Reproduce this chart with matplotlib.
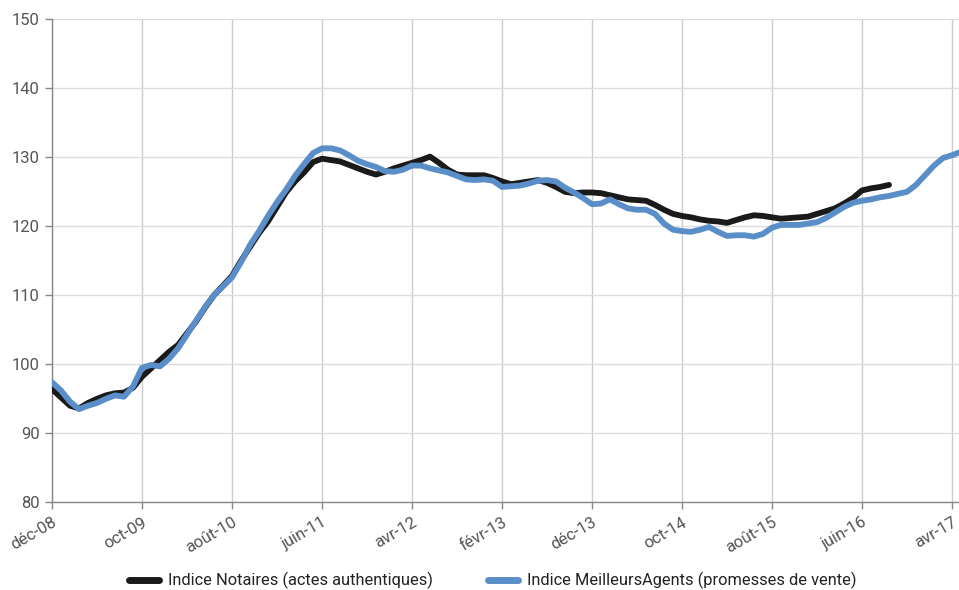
import numpy as np
import matplotlib.pyplot as plt

plt.rcParams['font.family'] = ['Roboto', 'DejaVu Sans']

# monthly index values, starting in December 2008
tick_labels = ['déc-08', 'oct-09', 'août-10', 'juin-11', 'avr-12', 'févr-13',
               'déc-13', 'oct-14', 'août-15', 'juin-16', 'avr-17']

notaires = [
    96.4, 95.2, 94.0, 93.6, 94.4, 95.0, 95.5, 95.8, 95.9, 96.6,
    98.2, 99.4, 100.6, 101.8, 102.8, 104.5, 106.2, 108.2, 110.0, 111.4,
    112.8, 115.0, 117.0, 119.0, 120.7, 122.8, 124.9, 126.5, 127.8, 129.3,
    129.8, 129.6, 129.4, 128.9, 128.4, 127.9, 127.5, 127.9, 128.4, 128.8,
    129.2, 129.6, 130.1, 129.2, 128.2, 127.5, 127.4, 127.4, 127.4, 127.0,
    126.5, 126.1, 126.3, 126.5, 126.7, 126.3, 125.7, 125.0, 124.8, 124.9,
    124.9, 124.8, 124.5, 124.2, 123.9, 123.8, 123.7, 123.1, 122.4, 121.8,
    121.5, 121.3, 121.0, 120.8, 120.7, 120.5, 120.9, 121.3, 121.6, 121.5,
    121.3, 121.1, 121.2, 121.3, 121.4, 121.8, 122.2, 122.6, 123.3, 124.1,
    125.2, 125.5, 125.7, 126.0,
]

meilleurs_agents = [
    97.4, 96.2, 94.6, 93.5, 94.0, 94.4, 95.0, 95.5, 95.3, 96.8,
    99.5, 99.9, 99.7, 100.8, 102.3, 104.3, 106.3, 108.3, 110.0, 111.3,
    112.6, 114.8, 117.3, 119.3, 121.5, 123.5, 125.3, 127.3, 129.0, 130.6,
    131.3, 131.3, 131.0, 130.3, 129.5, 129.0, 128.6, 128.0, 127.9, 128.2,
    128.8, 128.8, 128.4, 128.1, 127.8, 127.3, 126.8, 126.7, 126.8, 126.6,
    125.7, 125.8, 125.9, 126.2, 126.6, 126.7, 126.5, 125.6, 124.9, 124.1,
    123.2, 123.3, 123.9, 123.2, 122.6, 122.4, 122.4, 121.8, 120.4, 119.5,
    119.3, 119.2, 119.5, 119.9, 119.2, 118.6, 118.7, 118.7, 118.5, 118.9,
    119.8, 120.2, 120.2, 120.2, 120.4, 120.6, 121.2, 122.0, 122.8, 123.4,
    123.7, 123.9, 124.2, 124.4, 124.7, 125.0, 126.0, 127.4, 128.8, 129.9,
    130.3, 130.8,
]

label_notaires = 'Indice Notaires (actes authentiques)'
label_ma = 'Indice MeilleursAgents (promesses de vente)'

fig = plt.figure(figsize=(9.59, 5.90), dpi=100)
ax = fig.add_axes([52 / 959, 1 - 502.3 / 590, 907 / 959, (502.3 - 19.3) / 590])

ax.plot(np.arange(len(notaires)), notaires, color='#1a1a1a', lw=4.2,
        solid_capstyle='round', solid_joinstyle='round', label=label_notaires, zorder=3)
ax.plot(np.arange(len(meilleurs_agents)), meilleurs_agents, color='#5a8ec8', lw=4.2,
        solid_capstyle='round', solid_joinstyle='round', label=label_ma, zorder=4)

ax.set_xlim(0, 907 / 9)
ax.set_ylim(80, 150)
ax.set_yticks(np.arange(80, 151, 10))
ax.set_xticks(np.arange(len(tick_labels)) * 10)
ax.set_xticklabels(tick_labels, rotation=30, ha='right', rotation_mode='anchor')

ax.grid(axis='y', color='#dddddd', lw=1.0)
ax.grid(axis='x', color='#cccccc', lw=1.0)
ax.set_axisbelow(True)

for side in ('top', 'right'):
    ax.spines[side].set_visible(False)
for side in ('left', 'bottom'):
    ax.spines[side].set_color('#888888')
    ax.spines[side].set_linewidth(1.0)

ax.tick_params(axis='both', colors='#888888', length=5, width=1.0,
               labelcolor='#555555', labelsize=12)
ax.tick_params(axis='x', pad=4)
ax.tick_params(axis='y', pad=4)

leg = fig.legend(loc='lower center', bbox_to_anchor=(0.514, -0.024), ncol=2, frameon=False,
                 fontsize=11.8, handlelength=1.8, handletextpad=0.55, columnspacing=3.4)
for line in leg.get_lines():
    line.set_linewidth(5.0)
for text in leg.get_texts():
    text.set_color('#222222')

fig.savefig('out.png', dpi=100)
